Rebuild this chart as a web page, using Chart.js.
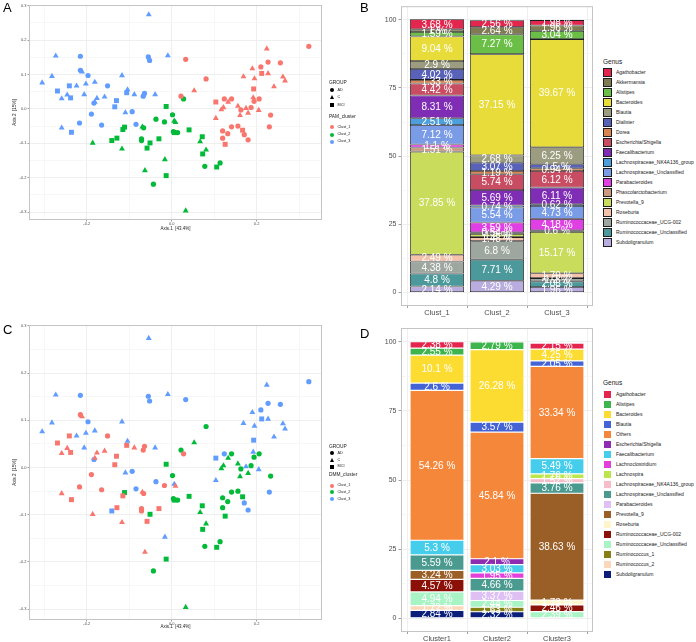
<!DOCTYPE html>
<html>
<head>
<meta charset="utf-8">
<script src="https://cdn.jsdelivr.net/npm/chart.js@4.4.1/dist/chart.umd.min.js"></script>
<style>
  html, body { margin: 0; padding: 0; background: #fff; }
  body { position: relative; width: 696px; height: 642px; overflow: hidden; font-family: "Liberation Sans", Arial, sans-serif; color: #1a1a1a; }
  canvas { position: absolute; }
  .tag { position: absolute; font-size: 13px; line-height: 13px; color: #000; }
  .lt { position: absolute; white-space: nowrap; }
  .sym { position: absolute; }
</style>
</head>
<body>
<canvas id="pcoaA" width="330" height="240" style="left:0;top:0"></canvas>
<canvas id="barB" width="230" height="320" style="left:370px;top:0"></canvas>
<canvas id="pcoaC" width="330" height="322" style="left:0;top:320px"></canvas>
<canvas id="barD" width="230" height="322" style="left:370px;top:320px"></canvas>
<div class="tag" style="left:3px;top:1px">A</div>
<div class="tag" style="left:360px;top:1px">B</div>
<div class="tag" style="left:3px;top:323px">C</div>
<div class="tag" style="left:360px;top:327px">D</div>
<div id="legends"></div>
<script>
// PCoA coordinates (same samples in A and C)
const pcoX = [
  -0.054, -0.273, -0.215, -0.055, -0.052, -0.009, -0.282, -0.305, -0.215, -0.211,
  -0.197, -0.117, -0.181, -0.202, -0.224, -0.241, -0.269, -0.151, -0.246, -0.238,
  -0.259, -0.206, -0.176, -0.181, -0.183, -0.158, -0.104, -0.106, -0.130, -0.134,
  -0.088, -0.064, -0.067, -0.039, -0.109, -0.093, -0.189, -0.217, -0.259, -0.236,
  -0.165, -0.084, -0.186, -0.141, -0.129, -0.117, -0.115, -0.111, -0.071, -0.071,
  -0.069, -0.066, -0.051, -0.058, -0.030, -0.037, -0.013, -0.017, 0.002, 0.006,
  0.009, 0.004, 0.006, 0.014, 0.028, 0.041, 0.072, 0.067, 0.081, 0.073,
  -0.016, -0.063, -0.013, -0.043, 0.033, 0.078, 0.114, 0.106, 0.033, 0.081,
  0.053, 0.022, 0.104, 0.124, 0.141, 0.133, 0.122, 0.117, 0.104, 0.120,
  0.132, 0.141, 0.120, 0.126, 0.156, 0.167, 0.171, 0.180, 0.156, 0.163,
  0.161, 0.175, 0.180, 0.187, 0.194, 0.192, 0.193, 0.206, 0.205, 0.169,
  0.190, 0.195, 0.210, 0.212, 0.227, 0.227, 0.224, 0.256, 0.262, 0.267,
  0.241, 0.233, 0.230, 0.323
];
const pcoY = [
  0.274, 0.154, 0.153, 0.151, 0.141, 0.155, 0.095, 0.076, 0.112, 0.108,
  0.097, 0.097, 0.078, 0.073, 0.067, 0.067, 0.052, 0.067, 0.041, 0.032,
  0.030, 0.042, 0.031, 0.020, 0.017, 0.035, 0.056, 0.047, 0.024, 0.006,
  0.042, 0.045, 0.037, 0.042, -0.011, -0.008, -0.015, -0.041, -0.055, -0.068,
  -0.047, -0.045, -0.099, -0.092, -0.085, -0.116, -0.060, -0.053, -0.087, -0.092,
  -0.052, -0.055, -0.099, -0.114, -0.087, -0.030, 0.007, -0.038, -0.017, -0.035,
  -0.039, -0.066, -0.069, -0.069, 0.029, -0.061, -0.081, -0.095, -0.119, -0.131,
  -0.147, -0.179, -0.194, -0.219, -0.296, -0.167, -0.157, -0.169, 0.144, 0.087,
  0.053, 0.037, 0.020, 0.029, 0.029, 0.020, 0.004, -0.002, -0.027, -0.064,
  -0.072, -0.052, -0.085, -0.103, -0.050, -0.062, -0.075, -0.090, 0.008, -0.003,
  -0.019, 0.002, -0.012, 0.004, 0.022, 0.033, 0.058, 0.029, -0.004, 0.094,
  0.117, 0.088, 0.122, 0.103, 0.103, 0.136, 0.175, 0.134, 0.093, 0.082,
  0.065, -0.018, -0.052, 0.182
];
const group = [
  'C', 'C', 'AD', 'AD', 'AD', 'C', 'C', 'C', 'AD', 'C',
  'AD', 'C', 'C', 'C', 'C', 'MCI', 'MCI', 'AD', 'C', 'MCI',
  'C', 'C', 'C', 'C', 'AD', 'C', 'C', 'MCI', 'MCI', 'MCI',
  'C', 'AD', 'AD', 'C', 'C', 'AD', 'AD', 'AD', 'C', 'MCI',
  'AD', 'AD', 'C', 'MCI', 'MCI', 'C', 'MCI', 'MCI', 'AD', 'AD',
  'C', 'AD', 'MCI', 'MCI', 'MCI', 'AD', 'MCI', 'AD', 'AD', 'C',
  'C', 'AD', 'MCI', 'AD', 'AD', 'MCI', 'MCI', 'C', 'C', 'MCI',
  'C', 'C', 'MCI', 'AD', 'C', 'AD', 'AD', 'MCI', 'AD', 'AD',
  'C', 'AD', 'MCI', 'AD', 'AD', 'C', 'C', 'C', 'C', 'AD',
  'AD', 'AD', 'AD', 'MCI', 'AD', 'MCI', 'AD', 'AD', 'C', 'AD',
  'C', 'C', 'C', 'AD', 'AD', 'C', 'MCI', 'AD', 'C', 'C',
  'C', 'C', 'AD', 'MCI', 'C', 'AD', 'C', 'AD', 'C', 'C',
  'C', 'AD', 'AD', 'AD'
];
const pamCluster = [
  3, 3, 3, 3, 3, 3, 3, 3, 3, 3,  3, 3, 3, 3, 3, 3, 3, 3, 3, 3,
  3, 3, 3, 3, 3, 3, 3, 3, 3, 3,  3, 3, 3, 3, 3, 3, 3, 3, 3, 3,
  3, 3, 2, 2, 2, 2, 2, 2, 2, 2,  2, 2, 2, 2, 2, 2, 2, 2, 2, 2,
  2, 2, 2, 2, 2, 2, 2, 2, 2, 2,  2, 2, 2, 2, 2, 2, 2, 2, 1, 1,
  1, 1, 1, 1, 1, 1, 1, 1, 1, 1,  1, 1, 1, 1, 1, 1, 1, 1, 1, 1,
  1, 1, 1, 1, 1, 1, 1, 1, 1, 1,  1, 1, 1, 1, 1, 1, 1, 1, 1, 1,
  1, 1, 1, 1
];
const dmmCluster = [
  3, 3, 3, 3, 3, 3, 3, 3, 1, 1,  3, 3, 3, 3, 3, 1, 1, 1, 1, 1,
  1, 3, 1, 1, 3, 1, 3, 1, 1, 1,  1, 1, 1, 3, 3, 3, 1, 1, 1, 1,
  1, 3, 1, 3, 1, 1, 1, 2, 1, 1,  1, 1, 2, 1, 1, 3, 2, 1, 2, 3,
  1, 2, 2, 2, 1, 2, 2, 2, 2, 2,  3, 1, 2, 2, 2, 2, 2, 2, 3, 2,
  2, 2, 3, 3, 2, 2, 2, 2, 3, 2,  2, 2, 2, 2, 2, 2, 3, 3, 2, 2,
  2, 3, 2, 2, 2, 3, 3, 2, 3, 3,  3, 3, 3, 3, 3, 3, 3, 3, 3, 3,
  3, 2, 3, 3
];
const clusterNames = ['Clust_1', 'Clust_2', 'Clust_3'];
const groupNames = ['AD', 'C', 'MCI'];
const pcoaXTicks = [-0.3, -0.2, -0.1, 0, 0.1, 0.2, 0.3];
const pcoaYTicks = [-0.3, -0.25, -0.2, -0.15, -0.1, -0.05, 0, 0.05, 0.1, 0.15, 0.2, 0.25, 0.3];

// Panel B: PAM clusters, genus relative abundance (%)
const pamBars = ['Clust_1', 'Clust_2', 'Clust_3'];
const genusB = ['Agathobacter', 'Akkermansia', 'Alistipes', 'Bacteroides', 'Blautia', 'Dialister', 'Dorea',
  'Escherichia/Shigella', 'Faecalibacterium', 'Lachnospiraceae_NK4A136_group', 'Lachnospiraceae_Unclassified',
  'Parabacteroides', 'Phascolarctobacterium', 'Prevotella_9', 'Roseburia', 'Ruminococcaceae_UCG-002',
  'Ruminococcaceae_Unclassified', 'Subdoligranulum'];
const clust1Pct = [3.68, 1.0, 1.59, 9.04, 2.9, 4.02, 1.33, 4.42, 8.31, 2.51, 7.12, 1.1, 1.51, 37.85, 2.49, 4.38, 4.8, 2.14];
const clust2Pct = [2.56, 2.64, 7.27, 37.15, 2.68, 3.07, 1.19, 5.74, 5.69, 0.74, 5.54, 3.59, 0.54, 1.2, 1.48, 6.8, 7.71, 4.29];
const clust3Pct = [1.98, 1.96, 3.04, 39.67, 6.25, 1.5, 0.94, 6.12, 6.11, 0.62, 4.73, 4.18, 0.6, 15.17, 1.79, 1.2, 2.08, 1.96];

// Panel D: DMM clusters
const dmmBars = ['Cluster1', 'Cluster2', 'Cluster3'];
const genusD = ['Agathobacter', 'Alistipes', 'Bacteroides', 'Blautia', 'Others', 'Escherichia/Shigella',
  'Faecalibacterium', 'Lachnoclostridium', 'Lachnospira', 'Lachnospiraceae_NK4A136_group',
  'Lachnospiraceae_Unclassified', 'Parabacteroides', 'Prevotella_9', 'Roseburia', 'Ruminococcaceae_UCG-002',
  'Ruminococcaceae_Unclassified', 'Ruminococcus_1', 'Ruminococcus_2', 'Subdoligranulum'];
const cluster1Pct = [2.38, 2.55, 10.1, 2.6, 54.26, 0, 5.3, 0, 0, 0, 5.59, 0, 3.24, 0, 4.57, 4.94, 0, 1.72, 2.84];
const cluster2Pct = [0, 2.79, 26.28, 3.57, 45.84, 2.1, 3.03, 1.95, 0, 0, 4.66, 3.37, 0, 0, 0, 2.44, 1.63, 0, 2.32];
const cluster3Pct = [2.15, 0, 4.25, 2.05, 33.34, 0, 5.49, 0, 1.76, 1.52, 3.76, 0, 38.63, 1.73, 2.46, 2.39, 0, 0, 0];
const pctTicks = [0, 12.5, 25, 37.5, 50, 62.5, 75, 87.5, 100];

// styles
const clusterColors = ['#F8766D', '#00BA38', '#619CFF'];
const colorsB = ['#E2264D', '#807C52', '#6BBF47', '#E8DC3A', '#9C9D80', '#5762B8', '#D9834F', '#C84D63', '#7F2DB5',
  '#4D9EDC', '#7A9BE6', '#E03FE3', '#C99A7F', '#C9DC5C', '#F4C2AA', '#9EA6A0', '#4B999B', '#B9ACDF'];
const colorsD = ['#E4264E', '#3DB54C', '#FDDC32', '#4464D6', '#F5873A', '#8E2DB2', '#45CDEB', '#E33FDA', '#BCE649',
  '#F6BDC8', '#4A9A90', '#DEC0F4', '#9A5F27', '#FEF5CB', '#8A1008', '#A8F4C4', '#857F16', '#FCD8BA', '#0B1F7A'];
const shapeOf = { AD: 'circle', C: 'triangle', MCI: 'rect' };
const radiusOf = { AD: 2.6, C: 3.4, MCI: 3.5 };

Chart.defaults.font.family = '"Liberation Sans", Arial, sans-serif';
Chart.defaults.animation = false;

const framePlugin = {
  id: 'frame',
  afterDraw(chart) {
    const a = chart.chartArea, ctx = chart.ctx;
    ctx.save();
    ctx.strokeStyle = '#C4C4C4';
    ctx.lineWidth = 1;
    ctx.strokeRect(a.left + 0.5, a.top + 0.5, a.right - a.left - 1, a.bottom - a.top - 1);
    ctx.restore();
  }
};

const segLabels = {
  id: 'segLabels',
  afterDatasetsDraw(chart) {
    const ctx = chart.ctx;
    ctx.save();
    ctx.fillStyle = '#ffffff';
    ctx.font = '10px "Liberation Sans", Arial, sans-serif';
    ctx.textAlign = 'center';
    ctx.textBaseline = 'middle';
    chart.data.datasets.forEach((ds, di) => {
      chart.getDatasetMeta(di).data.forEach((bar, i) => {
        const v = ds.data[i].y;
        if (!v) return;
        ctx.fillText(v + ' %', bar.x, (bar.y + bar.base) / 2 + 0.5);
      });
    });
    ctx.restore();
  }
};

const isMajorX = v => Math.abs(Math.round(v * 10)) % 2 === 0;
const isMajorY = v => Math.abs(Math.round(v * 100)) % 10 === 0;

function drawPcoa(id, clusterOf, pad, xAxisH) {
  const datasets = clusterNames.map((name, k) => ({
    label: name,
    data: pcoX.map((x, i) => ({ x: x, y: pcoY[i], g: group[i], c: clusterOf[i] })).filter(p => p.c === k + 1),
    backgroundColor: clusterColors[k],
    borderWidth: 0,
    pointStyle: c => c.raw ? shapeOf[c.raw.g] : 'circle',
    pointRadius: c => c.raw ? radiusOf[c.raw.g] : 2.6
  }));
  new Chart(document.getElementById(id), {
    type: 'scatter',
    data: { datasets: datasets },
    options: {
      responsive: false,
      layout: { padding: pad },
      plugins: { legend: { display: false }, tooltip: { enabled: false } },
      scales: {
        x: {
          type: 'linear', min: -0.336, max: 0.354,
          afterBuildTicks: s => { s.ticks = pcoaXTicks.map(v => ({ value: v })); },
          afterFit: s => { s.height = xAxisH; },
          border: { display: false },
          grid: {
            color: c => isMajorX(c.tick.value) ? '#EBEBEB' : '#F5F5F5',
            lineWidth: 0.8, tickLength: 1.5,
            tickColor: c => isMajorX(c.tick.value) ? '#888' : 'rgba(0,0,0,0)'
          },
          ticks: { font: { size: 4 }, color: '#4D4D4D', padding: 0, maxRotation: 0, autoSkip: false,
            callback: v => isMajorX(v) ? v.toFixed(1) : '' },
          title: { display: true, text: 'Axis.1  [43.4%]', font: { size: 4.5 }, color: '#222', padding: { top: 0, bottom: 1 } }
        },
        y: {
          type: 'linear', min: -0.323, max: 0.302,
          afterBuildTicks: s => { s.ticks = pcoaYTicks.map(v => ({ value: v })); },
          afterFit: s => { s.width = 17; },
          border: { display: false },
          grid: {
            color: c => isMajorY(c.tick.value) ? '#EBEBEB' : '#F5F5F5',
            lineWidth: 0.8, tickLength: 1.5,
            tickColor: c => isMajorY(c.tick.value) ? '#888' : 'rgba(0,0,0,0)'
          },
          ticks: { font: { size: 4 }, color: '#4D4D4D', padding: 1, autoSkip: false,
            callback: v => isMajorY(v) ? v.toFixed(1) : '' },
          title: { display: true, text: 'Axis.2  [15%]', font: { size: 4.5 }, color: '#222', padding: { top: 0, bottom: 1 } }
        }
      }
    },
    plugins: [framePlugin]
  });
}

function drawStack(id, bars, genus, colors, rows, edge, pad, xAxisH) {
  const datasets = genus.map((g, j) => ({
    label: g,
    data: bars.map((b, i) => ({ x: i + 1, y: rows[i][j] || null })),
    backgroundColor: colors[j],
    borderColor: edge.color,
    borderWidth: edge.width,
    borderSkipped: false,
    categoryPercentage: 1,
    barPercentage: 0.9
  })).reverse();
  new Chart(document.getElementById(id), {
    type: 'bar',
    data: { datasets: datasets },
    options: {
      responsive: false,
      layout: { padding: pad },
      plugins: { legend: { display: false }, tooltip: { enabled: false } },
      scales: {
        x: {
          type: 'linear', stacked: true, min: 0.4, max: 3.6, offset: false,
          afterBuildTicks: s => { s.ticks = bars.map((b, i) => ({ value: i + 1 })); },
          afterFit: s => { s.height = xAxisH; },
          border: { display: false },
          grid: { color: '#EBEBEB', lineWidth: 0.8, tickLength: 2, tickColor: '#888' },
          ticks: { font: { size: 7.5 }, color: '#4D4D4D', padding: 0, maxRotation: 0, autoSkip: false,
            callback: v => bars[v - 1] }
        },
        y: {
          stacked: true, min: -5, max: 105,
          afterBuildTicks: s => { s.ticks = pctTicks.map(v => ({ value: v })); },
          afterFit: s => { s.width = 31; },
          border: { display: false },
          grid: {
            color: c => c.tick.value % 25 === 0 ? '#EBEBEB' : '#F5F5F5',
            lineWidth: 0.8, tickLength: 2.5,
            tickColor: c => c.tick.value % 25 === 0 ? '#888' : 'rgba(0,0,0,0)'
          },
          ticks: { font: { size: 7 }, color: '#4D4D4D', padding: 2, autoSkip: false,
            callback: v => v % 25 === 0 ? String(v) : '' }
        }
      }
    },
    plugins: [framePlugin, segLabels]
  });
}

drawPcoa('pcoaA', pamCluster, { left: 12, right: 8, top: 5, bottom: 8 }, 12);
drawPcoa('pcoaC', dmmCluster, { left: 12, right: 8, top: 5, bottom: 12 }, 10);
drawStack('barB', pamBars, genusB, colorsB, [clust1Pct, clust2Pct, clust3Pct],
  { color: '#1E1E1E', width: 0.8 }, { left: 0, right: 7, top: 2, bottom: 0 }, 14);
drawStack('barD', dmmBars, genusD, colorsD, [cluster1Pct, cluster2Pct, cluster3Pct],
  { color: '#FFFFFF', width: 0.6 }, { left: 0, right: 7, top: 8, bottom: 0 }, 10);

// ---- HTML legends ----
const host = document.getElementById('legends');
function add(html) { host.insertAdjacentHTML('beforeend', html); }
function text(x, yc, fs, str) {
  add(`<div class="lt" style="left:${x}px;top:${yc - fs * 0.6}px;font-size:${fs}px;line-height:${fs * 1.2}px">${str}</div>`);
}
function symbol(xc, yc, shape, color) {
  if (shape === 'circle') {
    add(`<div class="sym" style="left:${xc - 2.2}px;top:${yc - 2.2}px;width:4.4px;height:4.4px;border-radius:50%;background:${color}"></div>`);
  } else if (shape === 'rect') {
    add(`<div class="sym" style="left:${xc - 2.1}px;top:${yc - 2.1}px;width:4.2px;height:4.2px;background:${color}"></div>`);
  } else {
    add(`<div class="sym" style="left:${xc - 2.5}px;top:${yc - 2.4}px;width:0;height:0;border-left:2.5px solid transparent;border-right:2.5px solid transparent;border-bottom:4.4px solid ${color}"></div>`);
  }
}
function shapeLegend(top, clusterTitle, rowsTop) {
  text(329, top, 4.8, 'GROUP');
  groupNames.forEach((g, i) => {
    symbol(332.3, rowsTop[i], shapeOf[g], '#000');
    text(337.5, rowsTop[i], 3.8, g);
  });
  text(329, rowsTop[3], 4.8, clusterTitle);
  clusterNames.forEach((c, i) => {
    symbol(332.3, rowsTop[4 + i], 'circle', clusterColors[i]);
    text(337.5, rowsTop[4 + i], 3.8, c);
  });
}
shapeLegend(82.7, 'PAM_cluster', [90, 97.7, 105.3, 117.3, 127.3, 134.7, 141.7]);
shapeLegend(446.7, 'DMM_cluster', [453.3, 460, 466.7, 475.3, 485.7, 492.3, 499]);

function genusLegend(titleY, firstY, genus, colors, edge) {
  text(603, titleY, 6.5, 'Genus');
  genus.forEach((g, i) => {
    const yc = firstY + i * 10;
    add(`<div class="sym" style="left:603px;top:${yc - 4.6}px;width:9px;height:9.2px;box-sizing:border-box;border:0.6px solid ${edge};background:${colors[i]}"></div>`);
    text(616, yc, 5, g);
  });
}
genusLegend(62, 72.3, genusB, colorsB, '#1E1E1E');
genusLegend(383, 394.2, genusD, colorsD, '#FFFFFF');
</script>
</body>
</html>
